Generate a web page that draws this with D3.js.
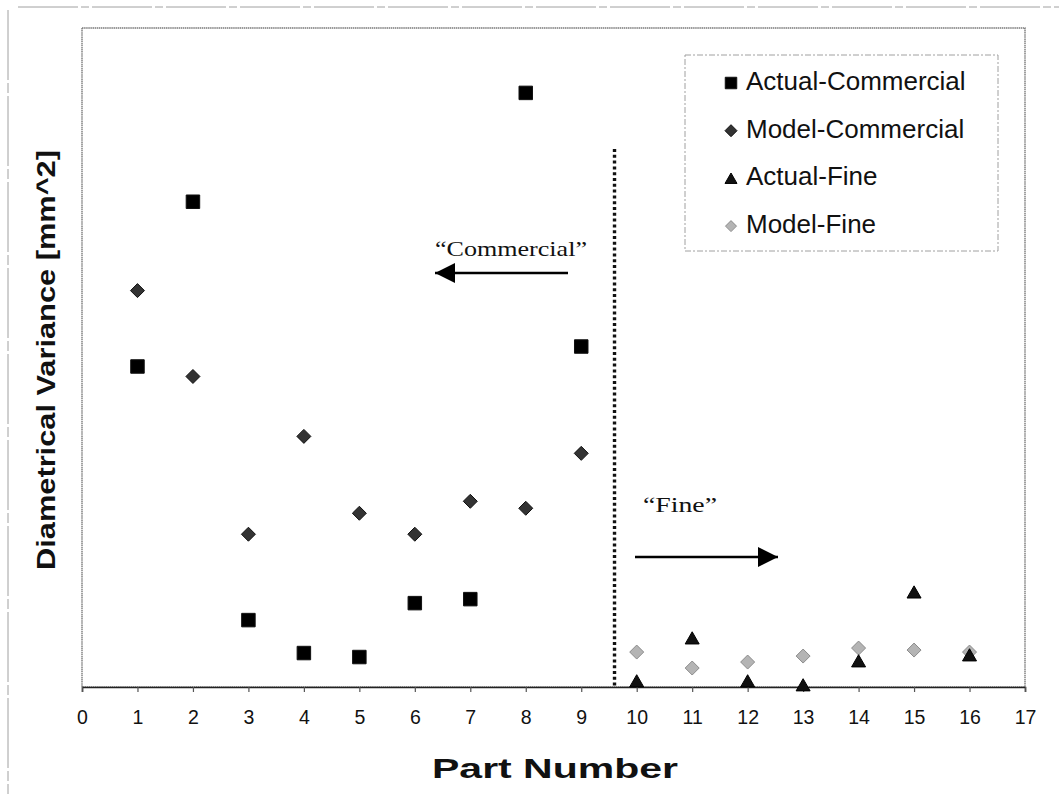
<!DOCTYPE html>
<html>
<head>
<meta charset="utf-8">
<script src="https://cdn.jsdelivr.net/npm/d3@7"></script>
<style>
  html, body { margin: 0; padding: 0; background: #fff; }
  svg { display: block; }
</style>
</head>
<body>
<svg id="chart" width="1059" height="794"></svg>
<script>
// Part numbers and diametrical variance per series (relative units)
const partsCommercial = [1, 2, 3, 4, 5, 6, 7, 8, 9];
const partsFine = [10, 11, 12, 13, 14, 15, 16];
const actualCommercial = [32.1, 48.6, 6.7, 3.4, 3.0, 8.4, 8.8, 59.5, 34.1];
const modelCommercial = [39.7, 31.1, 15.3, 25.1, 17.4, 15.3, 18.6, 17.9, 23.4];
const actualFine = [0.6, 4.9, 0.6, 0.2, 2.6, 9.5, 3.2];
const modelFine = [3.5, 1.9, 2.5, 3.1, 3.9, 3.7, 3.5];
const xTicks = d3.range(0, 18);
const seriesNames = ["Actual-Commercial", "Model-Commercial", "Actual-Fine", "Model-Fine"];
const dividerX = 9.6;

const svg = d3.select("#chart");
const plot = { left: 82, right: 1025, top: 28, bottom: 687 };

const x = d3.scaleLinear().domain([0, 17]).range([plot.left, plot.right]);
const y = d3.scaleLinear().domain([0, 66]).range([plot.bottom, plot.top]);

const sans = "Liberation Sans, Arial, sans-serif";
const serif = "Liberation Serif, Times New Roman, serif";

// faint outer frame
svg.append("line").attr("x1", 18).attr("x2", 1059).attr("y1", 7).attr("y2", 7)
  .attr("stroke", "#a0a0a0").attr("stroke-width", 1).attr("stroke-dasharray", "60,3,8,3");
svg.append("line").attr("x1", 8).attr("x2", 8).attr("y1", 10).attr("y2", 794)
  .attr("stroke", "#a0a0a0").attr("stroke-width", 1).attr("stroke-dasharray", "70,3,10,3");

// plot area frame
svg.append("rect")
  .attr("x", plot.left).attr("y", plot.top)
  .attr("width", plot.right - plot.left).attr("height", plot.bottom - plot.top)
  .attr("fill", "none").attr("stroke", "#7a7a7a").attr("stroke-width", 1.4)
  .attr("stroke-dasharray", "1.5,0.6");

// x axis
const xAxis = d3.axisBottom(x).tickValues(xTicks).tickSize(5).tickPadding(18)
  .tickFormat(d3.format("d"));
const gx = svg.append("g").attr("transform", `translate(0,${plot.bottom})`).call(xAxis);
gx.select(".domain").attr("stroke", "#222").attr("stroke-width", 1.6);
gx.selectAll(".tick line").attr("stroke", "#555").attr("stroke-width", 1.2);
gx.selectAll(".tick text")
  .attr("font-family", sans)
  .attr("font-size", 19.5).attr("fill", "#111");

// axis titles
svg.append("text")
  .attr("x", 432).attr("y", 778)
  .attr("textLength", 246).attr("lengthAdjust", "spacingAndGlyphs")
  .attr("font-family", sans)
  .attr("font-weight", "bold").attr("font-size", 28.5).attr("fill", "#111")
  .text("Part Number");
svg.append("text")
  .attr("transform", "translate(55,570) rotate(-90)")
  .attr("textLength", 420).attr("lengthAdjust", "spacingAndGlyphs")
  .attr("font-family", sans)
  .attr("font-weight", "bold").attr("font-size", 25.5).attr("fill", "#111")
  .text("Diametrical Variance [mm^2]");

// dotted divider between the two part groups
svg.append("line")
  .attr("x1", x(dividerX)).attr("x2", x(dividerX))
  .attr("y1", 149).attr("y2", plot.bottom)
  .attr("stroke", "#111").attr("stroke-width", 3.4).attr("stroke-dasharray", "3,2.8");

// annotations with arrows
svg.append("defs").append("marker")
  .attr("id", "head").attr("viewBox", "0 0 20 20")
  .attr("refX", 20).attr("refY", 10)
  .attr("markerWidth", 22).attr("markerHeight", 20)
  .attr("markerUnits", "userSpaceOnUse").attr("orient", "auto")
  .append("path").attr("d", "M0,0 L20,10 L0,20 Z").attr("fill", "#000");

svg.append("line")
  .attr("x1", 568).attr("y1", 273).attr("x2", 435).attr("y2", 273)
  .attr("stroke", "#000").attr("stroke-width", 2.4).attr("marker-end", "url(#head)");
svg.append("text")
  .attr("x", 435).attr("y", 256)
  .attr("textLength", 152).attr("lengthAdjust", "spacingAndGlyphs")
  .attr("font-family", serif)
  .attr("font-size", 21).attr("fill", "#111")
  .text("\u201CCommercial\u201D");

svg.append("line")
  .attr("x1", 635).attr("y1", 557).attr("x2", 778).attr("y2", 557)
  .attr("stroke", "#000").attr("stroke-width", 2.4).attr("marker-end", "url(#head)");
svg.append("text")
  .attr("x", 643).attr("y", 512)
  .attr("textLength", 74).attr("lengthAdjust", "spacingAndGlyphs")
  .attr("font-family", serif)
  .attr("font-size", 21).attr("fill", "#111")
  .text("\u201CFine\u201D");

// marker shapes, s = overall width in px
const shapes = {
  square: s => `M${-s / 2},${-s / 2}h${s}v${s}h${-s}Z`,
  diamond: s => `M0,${-s / 2}L${s / 2},0L0,${s / 2}L${-s / 2},0Z`,
  triangle: s => `M0,${-s * 0.45}L${s / 2},${s * 0.42}L${-s / 2},${s * 0.42}Z`
};
const styles = {
  "Actual-Commercial": { shape: "square", fill: "#000", stroke: "#111", size: 13.5, legendSize: 11.5 },
  "Model-Commercial": { shape: "diamond", fill: "#333", stroke: "#111", size: 14, legendSize: 12 },
  "Actual-Fine": { shape: "triangle", fill: "#111", stroke: "#000", size: 14, legendSize: 12 },
  "Model-Fine": { shape: "diamond", fill: "#b4b4b4", stroke: "#8c8c8c", size: 14, legendSize: 11 }
};

function drawSeries(name, xs, ys) {
  const st = styles[name];
  svg.append("g").selectAll("path")
    .data(xs.map((d, i) => ({ x: d, y: ys[i] })))
    .join("path")
    .attr("d", shapes[st.shape](st.size))
    .attr("transform", d => `translate(${x(d.x)},${y(d.y)})`)
    .attr("fill", st.fill).attr("stroke", st.stroke).attr("stroke-width", 1);
}

drawSeries("Model-Commercial", partsCommercial, modelCommercial);
drawSeries("Actual-Commercial", partsCommercial, actualCommercial);
drawSeries("Model-Fine", partsFine, modelFine);
drawSeries("Actual-Fine", partsFine, actualFine);

// legend
const legend = svg.append("g");
legend.append("rect")
  .attr("x", 685).attr("y", 55).attr("width", 313).attr("height", 196)
  .attr("fill", "#fff").attr("stroke", "#a0a0a0").attr("stroke-width", 1)
  .attr("stroke-dasharray", "6,2,2,2");
seriesNames.forEach((name, i) => {
  const st = styles[name];
  const base = 90 + i * 47.7;
  legend.append("path")
    .attr("d", shapes[st.shape](st.legendSize))
    .attr("transform", `translate(731,${base - 7})`)
    .attr("fill", st.fill).attr("stroke", st.stroke).attr("stroke-width", 1);
  legend.append("text")
    .attr("x", 746).attr("y", base)
    .attr("font-family", sans)
    .attr("font-size", 26).attr("fill", "#111")
    .text(name);
});
</script>
</body>
</html>
